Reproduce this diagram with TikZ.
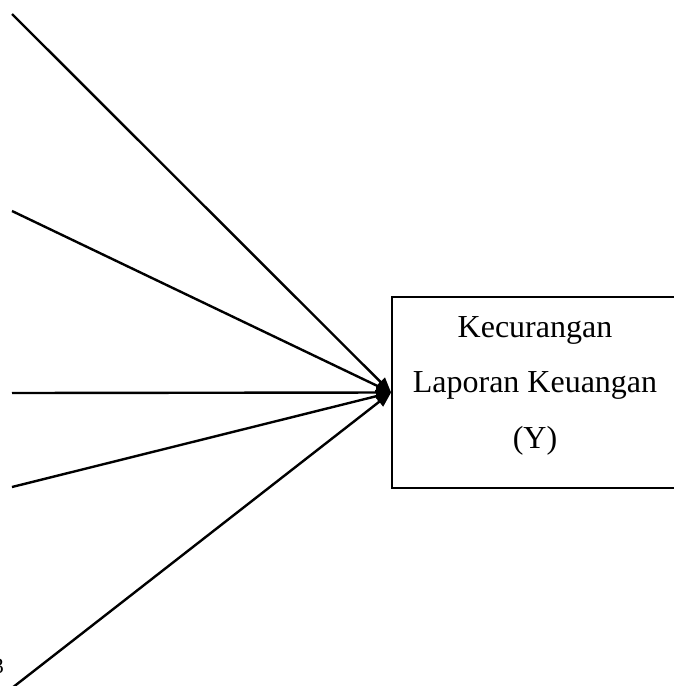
\documentclass[tikz,border=0pt]{standalone}
\usepackage{fontspec}
\setmainfont{Liberation Serif}
\usetikzlibrary{arrows.meta}
\begin{document}
\begin{tikzpicture}[x=1pt,y=-1pt,
  conn/.style={line width=2.4pt,-{Triangle[length=15pt,width=12pt]}},
  boxstyle/.style={draw,line width=1.8pt,minimum width=286pt,minimum height=191pt,inner sep=0pt},
  lbl/.style={font=\fontsize{32}{38}\selectfont,anchor=base,inner sep=0pt}]
\useasboundingbox (0,0) rectangle (673,686);
\node[boxstyle] (box) at (535,392.5) {};
\node[lbl] (t1) at (535,337) {Kecurangan};
\node[lbl] (t2) at (535,392) {Laporan Keuangan};
\node[lbl] (t3) at (535,448) {(Y)};
\node[font=\fontsize{22}{26}\selectfont,anchor=base east,inner sep=0pt] (n3) at (4,673) {3};
\coordinate (a1) at (12,14);
\coordinate (a2) at (12,211);
\coordinate (a3) at (12,393);
\coordinate (a4) at (12,487);
\coordinate (a5) at (12,688);
\foreach \s in {a1,a2,a3,a4,a5}
  \draw[conn] (\s) -- (box.west);
\end{tikzpicture}
\end{document}
